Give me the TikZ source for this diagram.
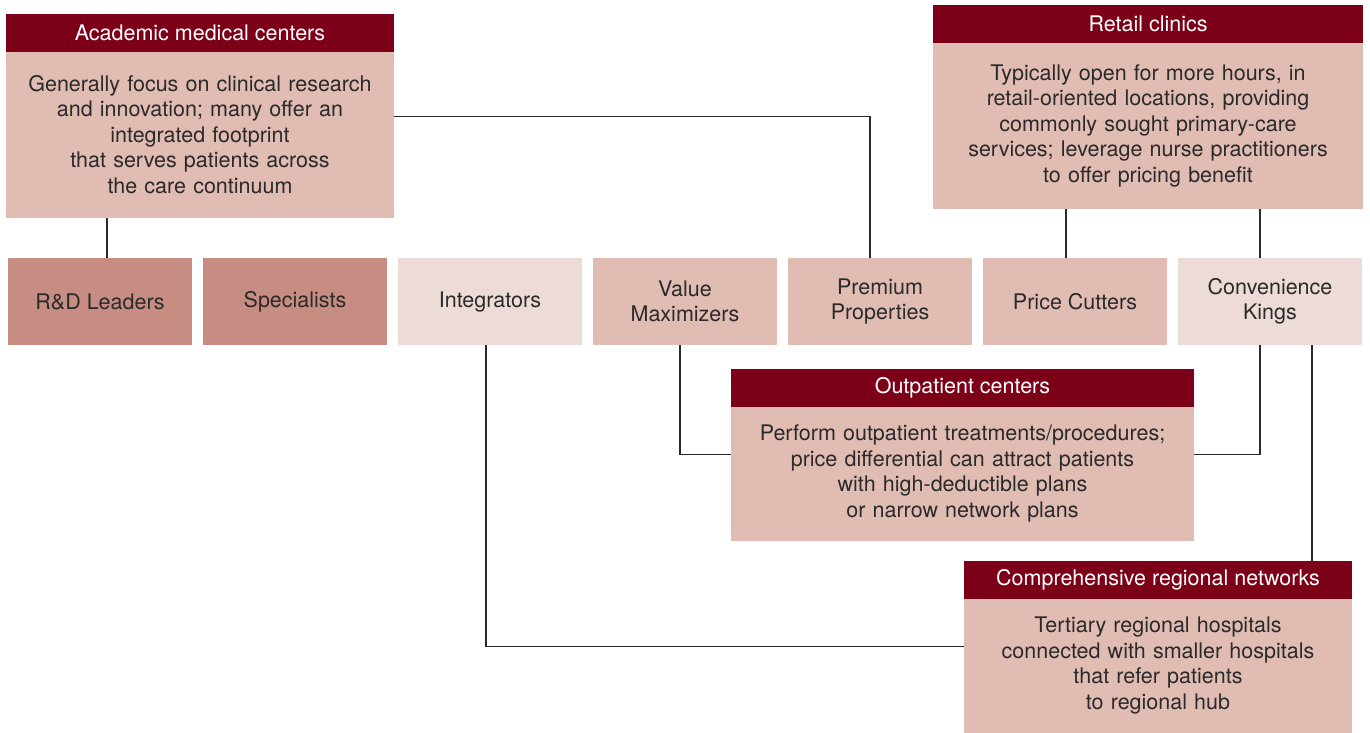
\documentclass[tikz,border=0pt]{standalone}
\usepackage{fontspec}
\setmainfont{TeX Gyre Heros}
\usepackage{xcolor}
\usepackage{tikz}
\usetikzlibrary{positioning,calc}
\definecolor{headred}{HTML}{7C0018}
\definecolor{rosebody}{HTML}{E0BCB3}
\definecolor{darkrose}{HTML}{C78C82}
\definecolor{lightrose}{HTML}{EDDBD7}
\definecolor{inkgray}{HTML}{2A2A2A}
\tikzset{
  headbox/.style={
    fill=headred,text=white,inner sep=0pt,outer sep=0pt,
    minimum height=37.5,font=\fontsize{21.5}{25.5}\selectfont
  },
  descbox/.style={
    fill=rosebody,text=inkgray,inner sep=0pt,outer sep=0pt,
    align=center,font=\fontsize{21.5}{25.5}\selectfont
  },
  rowbox/.style={
    fill=rosebody,text=inkgray,inner sep=0pt,outer sep=0pt,
    minimum width=184,minimum height=87,
    align=center,font=\fontsize{21.5}{25}\selectfont
  },
  link/.style={draw=inkgray,line width=1.3pt}
}
\begin{document}
\begin{tikzpicture}[x=1pt,y=-1pt,node distance=11pt]
\useasboundingbox (0,0) rectangle (1370,732);
\fill[white] (0,0) rectangle (1370,732);

\node[rowbox,fill=darkrose,anchor=north west] (rd) at (8,258) {R\&D Leaders};
\node[rowbox,fill=darkrose,right=of rd] (spec) {Specialists};
\node[rowbox,fill=lightrose,right=of spec] (integ) {Integrators};
\node[rowbox,right=of integ] (value) {Value\\Maximizers};
\node[rowbox,right=of value] (prem) {Premium\\Properties};
\node[rowbox,right=of prem] (price) {Price Cutters};
\node[rowbox,fill=lightrose,right=of price] (conv) {Convenience\\Kings};

\node[headbox,minimum width=388,anchor=north west] (acadhead) at (6,14) {Academic medical centers};
\node[descbox,text width=388,minimum height=166,below=0pt of acadhead] (acad) {Generally focus on clinical research\\and innovation; many offer an\\integrated footprint\\that serves patients across\\the care continuum\\[4pt]};

\node[headbox,minimum width=430,anchor=north west] (retailhead) at (933,5) {Retail clinics};
\node[descbox,text width=430,minimum height=166,below=0pt of retailhead] (retail) {Typically open for more hours, in\\retail-oriented locations, providing\\commonly sought primary-care\\services; leverage nurse practitioners\\to offer pricing benefit\\[4pt]};

\node[headbox,minimum width=463,anchor=north west] (outphead) at (731,369) {Outpatient centers};
\node[descbox,text width=463,minimum height=134,below=0pt of outphead] (outp) {Perform outpatient treatments/procedures;\\price differential can attract patients\\with high-deductible plans\\or narrow network plans\\[4pt]};

\node[headbox,minimum width=388,anchor=north west] (comphead) at (964,561) {Comprehensive regional networks};
\node[descbox,text width=388,minimum height=134,below=0pt of comphead] (comp) {Tertiary regional hospitals\\connected with smaller hospitals\\that refer patients\\to regional hub\\[4pt]};

\draw[link] ([xshift=7]rd.north) -- ([xshift=7]rd.north |- acad.south);
\draw[link] ([yshift=18]acad.east) -| ([xshift=-10]prem.north);
\draw[link] ([xshift=-9]price.north) -- ([xshift=-9]price.north |- retail.south);
\draw[link] ([xshift=-10]conv.north) -- ([xshift=-10]conv.north |- retail.south);
\draw[link] ([xshift=-5]value.south) |- ([yshift=19]outp.west);
\draw[link] ([xshift=-10]conv.south) |- ([yshift=19]outp.east);
\draw[link] ([xshift=42]conv.south) -- ([xshift=42]conv.south |- comphead.north);
\draw[link] ([xshift=-4]integ.south) |- ([yshift=19]comp.west);
\end{tikzpicture}
\end{document}
